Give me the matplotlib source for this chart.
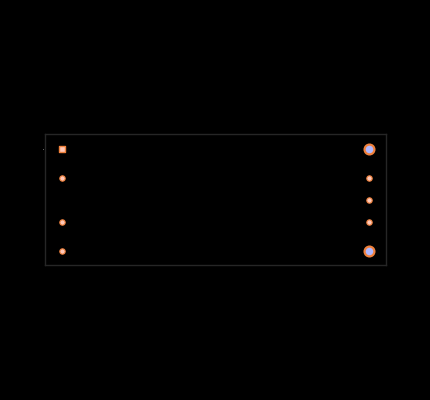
import matplotlib
matplotlib.use("Agg")
import matplotlib.pyplot as plt

x_small = [0, 0, 0, 10, 10, 10]
y_small = [5, 2, 0, 5, 3.5, 2]
x_square = [0]
y_square = [7]
x_large = [10, 10]
y_large = [7, 0]
tick_values = [7]
tick_labels = ["·"]

W, H = 430, 400
fig = plt.figure(figsize=(W / 100, H / 100), dpi=100, facecolor="black")
ax = fig.add_axes([45.0 / W, 1 - 265.0 / H, 340.5 / W, 131.5 / H], facecolor="black")

orange = "#f0813c"
ax.scatter(x_small, y_small, s=15, marker="o", facecolor="#ffc8b8", edgecolor=orange, linewidth=0.8, zorder=3)
ax.scatter(x_square, y_square, s=15, marker="s", facecolor="#ffc8b8", edgecolor=orange, linewidth=1.0, zorder=3)
ax.scatter(x_large, y_large, s=50, marker="o", facecolor="#b0b8ff", edgecolor=orange, linewidth=1.6, zorder=3)

ax.set_xlim(-0.537, 10.537)
ax.set_ylim(-0.96, 8.04)
ax.set_xticks([])
ax.set_yticks(tick_values, labels=tick_labels)
ax.tick_params(axis="y", length=0, pad=0, labelcolor="#777777", labelsize=7)
for s in ax.spines.values():
    s.set_color("#262626")
    s.set_linewidth(1)

fig.savefig("out.png", dpi=100, facecolor="black")
